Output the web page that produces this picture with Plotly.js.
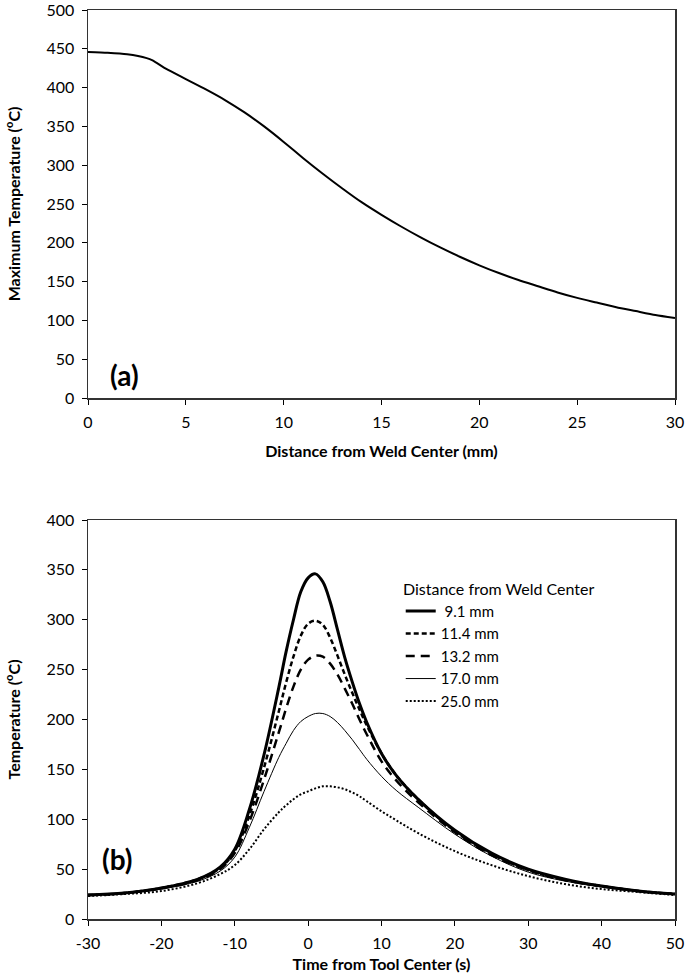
<!DOCTYPE html>
<html>
<head>
<meta charset="utf-8">
<script src="https://cdn.plot.ly/plotly-3.0.1.min.js"></script>
<style>html,body{margin:0;padding:0;background:#fff;}#chart{width:685px;height:973px;}</style>
</head>
<body>
<div id="chart"></div>
<script>
// (a) Maximum temperature vs distance from weld center
const distMm = [0, 1, 2, 3, 3.3, 4, 5, 6, 7, 8, 9, 10, 11, 12, 13, 14, 15, 16, 17, 18, 19, 20, 21, 22, 23, 24, 25, 26, 27, 28, 29, 30];
const maxTemp = [446, 445, 443, 438, 435, 424, 411, 398, 384, 368, 350, 330, 309, 289, 270, 252, 236, 221, 207, 194, 182, 171, 161, 152, 144, 136, 129, 123, 117, 112, 107, 103];

// (b) Temperature vs time from tool center
const timeS = [-30, -25, -20, -15, -12, -10, -8, -6, -4, -3, -2, -1, 0, 1, 2, 3, 4, 5, 6, 7, 8, 10, 12, 15, 20, 25, 30, 35, 40, 45, 50];
const t9_1  = [24, 26, 31, 40, 52, 70, 110, 165, 232, 268, 300, 328, 342, 346, 338, 318, 290, 262, 238, 216, 197, 166, 144, 120, 89, 66, 50, 40, 33, 28, 25];
const t11_4 = [24, 26, 31, 40, 51, 68, 104, 152, 208, 237, 263, 284, 296, 299, 295, 282, 264, 245, 227, 210, 194, 166, 144, 120, 88, 65, 49, 39, 33, 28, 25];
const t13_2 = [24, 26, 31, 39, 50, 66, 98, 140, 187, 211, 233, 250, 260, 264, 263, 256, 245, 231, 216, 200, 185, 158, 139, 117, 87, 64, 49, 39, 33, 28, 25];
const t17_0 = [24, 26, 30, 38, 48, 62, 92, 128, 162, 176, 189, 198, 203, 206, 206, 203, 197, 189, 180, 170, 160, 143, 129, 112, 85, 63, 47, 38, 32, 28, 25];
const t25_0 = [23, 25, 28, 36, 45, 54, 70, 90, 107, 114, 120, 125, 128, 131, 133, 133, 132, 130, 127, 123, 118, 108, 99, 86, 68, 54, 43, 35, 30, 27, 24];
const seriesNames = [' 9.1 mm', '11.4 mm', '13.2 mm', '17.0 mm', '25.0 mm'];
const timeTicks = [-30, -20, -10, 0, 10, 20, 30, 40, 50];
const timeTickText = ['-30', '-20', '-10', '0', '10', '20', '30', '40', '50'];

const FONT = 'Lato, "Open Sans", sans-serif';
const W = 685, H = 973;
const xd = [88 / W, 675 / W];

const traces = [
  {x: distMm, y: maxTemp, xaxis: 'x', yaxis: 'y', mode: 'lines', showlegend: false,
   line: {color: '#000', width: 2, shape: 'spline', smoothing: 0.6}},
  {x: timeS, y: t9_1, xaxis: 'x2', yaxis: 'y2', mode: 'lines', name: seriesNames[0],
   line: {color: '#000', width: 3, shape: 'spline', smoothing: 1}},
  {x: timeS, y: t11_4, xaxis: 'x2', yaxis: 'y2', mode: 'lines', name: seriesNames[1],
   line: {color: '#000', width: 2.5, dash: '5px,3px', shape: 'spline', smoothing: 1}},
  {x: timeS, y: t13_2, xaxis: 'x2', yaxis: 'y2', mode: 'lines', name: seriesNames[2],
   line: {color: '#000', width: 2.5, dash: '9px,6px', shape: 'spline', smoothing: 1}},
  {x: timeS, y: t17_0, xaxis: 'x2', yaxis: 'y2', mode: 'lines', name: seriesNames[3],
   line: {color: '#000', width: 1, shape: 'spline', smoothing: 1}},
  {x: timeS, y: t25_0, xaxis: 'x2', yaxis: 'y2', mode: 'lines', name: seriesNames[4],
   line: {color: '#000', width: 2, dash: '2px,2px', shape: 'spline', smoothing: 1}}
];

const axCommon = {
  showline: true, mirror: true, linecolor: '#333', linewidth: 1.5,
  ticks: 'outside', ticklen: 5, tickcolor: '#000', tickwidth: 1,
  showgrid: false, zeroline: false, ticklabelstandoff: 4, ticklabeloverflow: 'allow',
  tickfont: {family: FONT, size: 16, color: '#000'}
};
const titleFont = {family: FONT, size: 16, color: '#000', weight: 'bold'};

const layout = {
  width: W, height: H,
  margin: {l: 0, r: 0, t: 0, b: 0},
  paper_bgcolor: '#fff', plot_bgcolor: '#fff',
  font: {family: FONT, color: '#000'},
  xaxis: Object.assign({}, axCommon, {domain: xd, anchor: 'y', range: [0, 30], dtick: 5,
    title: {text: '<b>Distance from Weld Center (mm)</b>', font: titleFont, standoff: 16}}),
  yaxis: Object.assign({}, axCommon, {domain: [(H - 398) / H, (H - 10) / H], anchor: 'x', range: [0, 500], dtick: 50,
    title: {text: '<b>Maximum Temperature (<sup>o</sup>C)</b>', font: titleFont, standoff: 22}}),
  xaxis2: Object.assign({}, axCommon, {domain: xd, anchor: 'y2', range: [-30, 50],
    tickmode: 'array', tickvals: timeTicks, ticktext: timeTickText,
    title: {text: '<b>Time from Tool Center (s)</b>', font: titleFont, standoff: 10}}),
  yaxis2: Object.assign({}, axCommon, {domain: [(H - 919) / H, (H - 520) / H], anchor: 'x2', range: [0, 400], dtick: 50,
    title: {text: '<b>Temperature (<sup>o</sup>C)</b>', font: titleFont, standoff: 22}}),
  legend: {
    x: 0.585, y: (H - 574) / H, xanchor: 'left', yanchor: 'top',
    bgcolor: 'rgba(0,0,0,0)', borderwidth: 0,
    font: {family: FONT, size: 15, color: '#000'},
    title: {text: 'Distance from Weld Center', side: 'top center', font: {family: FONT, size: 16, color: '#000'}},
    itemwidth: 30, tracegroupgap: 0
  },
  annotations: [
    {xref: 'x', yref: 'y', x: 1.85, y: 30, text: '<b>(a)</b>', showarrow: false,
     font: {family: FONT, size: 28, color: '#000'}},
    {xref: 'x2', yref: 'y2', x: -26, y: 60, text: '<b>(b)</b>', showarrow: false,
     font: {family: FONT, size: 28, color: '#000'}}
  ]
};

Plotly.newPlot('chart', traces, layout, {staticPlot: true, displayModeBar: false});
</script>
</body>
</html>
